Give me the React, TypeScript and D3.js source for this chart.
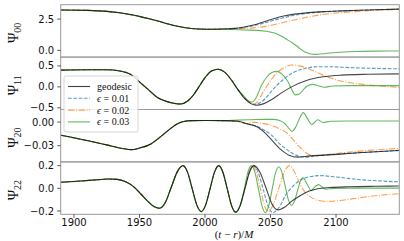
import React from 'react';
import * as d3 from 'd3';

type Pt = [number, number];

// Psi_00
const geo00: Pt[] = [[1890,3.23],[1910,3.2],[1925,3.12],[1935,3.0],[1946,2.8],[1955,2.58],[1964,2.35],[1972,2.1],[1980,1.9],[1988,1.77],[1995,1.71],[2005,1.69],[2015,1.71],[2022,1.76],[2028,1.83],[2037,2.02],[2045,2.28],[2053,2.55],[2061,2.77],[2070,2.92],[2079,3.02],[2090,3.1],[2104,3.16],[2125,3.23],[2148,3.3]];
const e1_00: Pt[] = [[2022,1.74],[2028,1.8],[2037,1.97],[2045,2.18],[2053,2.42],[2061,2.64],[2070,2.84],[2079,2.97],[2090,3.07],[2104,3.15],[2125,3.23],[2148,3.3]];
const e2_00: Pt[] = [[2022,1.72],[2028,1.74],[2037,1.8],[2045,1.9],[2053,2.06],[2061,2.27],[2070,2.47],[2079,2.67],[2090,2.87],[2104,3.02],[2117,3.12],[2130,3.2],[2148,3.27]];
const e3_00: Pt[] = [[2022,1.67],[2030,1.63],[2040,1.6],[2047,1.53],[2053,1.38],[2058,1.15],[2062,0.9],[2066,0.65],[2070,0.35],[2073,0.1],[2076,-0.12],[2080,-0.27],[2084,-0.32],[2092,-0.25],[2100,-0.17],[2115,-0.09],[2130,-0.06],[2148,-0.05]];

// Psi_11
const geo11: Pt[] = [[1890,0.4],[1910,0.41],[1925,0.41],[1935,0.38],[1943,0.3],[1951,0.09],[1958,-0.1],[1964,-0.26],[1970,-0.34],[1976,-0.39],[1981,-0.41],[1987,-0.33],[1991,-0.2],[1994.7,-0.03],[2000,0.22],[2005,0.38],[2010,0.42],[2015,0.35],[2020,0.17],[2025,-0.06],[2030,-0.27],[2035,-0.4],[2039,-0.44],[2045,-0.4],[2051,-0.3],[2058,-0.15],[2066,0.0],[2078,0.16],[2090,0.24],[2104,0.28],[2125,0.3],[2148,0.31]];
const e1_11: Pt[] = [[2030,-0.26],[2035,-0.39],[2038,-0.42],[2042,-0.38],[2046,-0.28],[2050,-0.13],[2055,0.04],[2060,0.18],[2066,0.32],[2072,0.4],[2078,0.45],[2085,0.48],[2095,0.48],[2110,0.46],[2130,0.44],[2148,0.43]];
const e2_11: Pt[] = [[2030,-0.25],[2034,-0.37],[2037,-0.41],[2040,-0.36],[2044,-0.14],[2046,-0.04],[2050,0.15],[2055,0.34],[2060,0.45],[2066,0.52],[2072,0.5],[2080,0.42],[2090,0.28],[2100,0.17],[2115,0.08],[2130,0.03],[2148,-0.01]];
const e3_11: Pt[] = [[2030,-0.23],[2033,-0.33],[2036,-0.36],[2039,-0.26],[2043,0.03],[2047,0.23],[2051,0.34],[2055,0.37],[2059,0.3],[2063,0.14],[2066,-0.05],[2069,-0.19],[2072,-0.17],[2075,-0.07],[2078,0.02],[2082,0.06],[2087,0.02],[2091,-0.01],[2097,0.02],[2110,0.03],[2148,0.03]];

// Psi_20
const geo20: Pt[] = [[1890,-0.0168],[1910,-0.0235],[1925,-0.029],[1937,-0.0335],[1944,-0.035],[1950,-0.033],[1959,-0.0275],[1965,-0.02],[1972,-0.0105],[1978,-0.003],[1983,0.0005],[1990,0.0018],[2000,0.002],[2015,0.0018],[2025,0.001],[2032,-0.002],[2040,-0.0063],[2046,-0.014],[2051,-0.023],[2058,-0.035],[2064,-0.042],[2071,-0.0445],[2080,-0.043],[2091,-0.042],[2117,-0.039],[2148,-0.036]];
const e1_20: Pt[] = [[2032,-0.0025],[2040,-0.0055],[2046,-0.011],[2051,-0.017],[2056,-0.026],[2061,-0.033],[2066,-0.039],[2071,-0.043],[2077,-0.0445],[2085,-0.043],[2091,-0.042],[2117,-0.039],[2148,-0.036]];
const e2_20: Pt[] = [[2035,0.0],[2045,-0.002],[2052,-0.005],[2058,-0.0095],[2063,-0.0145],[2067,-0.022],[2071,-0.0295],[2075,-0.036],[2079,-0.041],[2084,-0.043],[2092,-0.0415],[2105,-0.039],[2125,-0.036],[2148,-0.0335]];
const e3_20: Pt[] = [[2025,0.0025],[2035,0.003],[2045,0.0035],[2052,0.0035],[2057,0.002],[2061,-0.002],[2064,-0.008],[2066.3,-0.0118],[2069,-0.007],[2072,0.004],[2075,0.012],[2078,0.005],[2081.5,-0.003],[2086,0.003],[2090,-0.0005],[2096,0.001],[2110,0.0013],[2148,0.0013]];

// Psi_22
const geo22: Pt[] = [[1890,0.053],[1905,0.064],[1918,0.076],[1926,0.082],[1933,0.079],[1939,0.06],[1945,0.02],[1951,-0.05],[1956,-0.11],[1961,-0.16],[1965.4,-0.175],[1969.9,-0.12],[1974.3,0.012],[1978.8,0.145],[1983.2,0.2],[1986.7,0.141],[1990.2,-0.002],[1993.7,-0.146],[1997.2,-0.205],[2000.5,-0.146],[2003.9,-0.002],[2007.2,0.141],[2010.5,0.2],[2013.7,0.14],[2017,-0.005],[2020.2,-0.15],[2023.4,-0.21],[2026.9,-0.15],[2030.4,-0.005],[2033.9,0.14],[2037.4,0.2],[2042,0.14],[2046.5,0.005],[2051,-0.135],[2055.7,-0.19],[2061,-0.165],[2066,-0.115],[2072,-0.07],[2079,-0.026],[2086,-0.003],[2095,0.007],[2110,0.014],[2130,0.018],[2148,0.02]];
const e1_22: Pt[] = [[2033.7,0.14],[2036.8,0.2],[2040.6,0.14],[2044.4,-0.007],[2048.1,-0.155],[2051.9,-0.215],[2055,-0.19],[2058,-0.14],[2061,-0.07],[2066,0.005],[2071,0.06],[2076,0.09],[2081,0.105],[2088,0.112],[2100,0.1],[2117,0.078],[2135,0.064],[2148,0.057]];
const e2_22: Pt[] = [[2033.4,0.14],[2036.3,0.2],[2039.2,0.14],[2042.2,0.0],[2045.1,-0.14],[2048,-0.205],[2052.2,-0.14],[2056.3,0.0],[2060.4,0.14],[2064.6,0.2],[2068.5,0.14],[2072,0.05],[2076,-0.03],[2081,-0.08],[2087,-0.107],[2094,-0.116],[2105,-0.105],[2117,-0.085],[2132,-0.063],[2148,-0.047]];
const e3_22: Pt[] = [[2030,-0.005],[2032.7,0.14],[2035.4,0.2],[2038.1,0.14],[2040.8,-0.007],[2043.4,-0.15],[2046.1,-0.215],[2048.6,-0.155],[2051.2,-0.012],[2053.7,0.13],[2056.3,0.19],[2058.7,0.14],[2061.2,0.02],[2063.6,-0.1],[2066,-0.15],[2068.2,-0.115],[2070.4,-0.03],[2072.6,0.057],[2074.8,0.092],[2077.8,0.04],[2081,-0.02],[2084,0.015],[2086.8,0.033],[2089.5,0.01],[2092.5,-0.008],[2098,0.0],[2110,0.002],[2148,0.002]];

const xTicks = [1900, 1950, 2000, 2050, 2100];
const legendLabels = ['geodesic', '0.01', '0.02', '0.03'];

// the eps runs follow the geodesic until they split off
const join = (geo: Pt[], tail: Pt[]): Pt[] => [...geo.filter(d => d[0] < tail[0][0] - 1), ...tail];

const panels = [
  { sub: '00', domain: [-0.54, 3.65], ticks: [0, 2.5], fmt: '.1f', geo: geo00, eps: [e1_00, e2_00, e3_00] },
  { sub: '11', domain: [-0.54, 0.71], ticks: [-0.5, 0, 0.5], fmt: '.1f', geo: geo11, eps: [e1_11, e2_11, e3_11] },
  { sub: '20', domain: [-0.0506, 0.016], ticks: [-0.03, 0], fmt: '.2f', geo: geo20, eps: [e1_20, e2_20, e3_20] },
  { sub: '22', domain: [-0.229, 0.233], ticks: [-0.2, 0, 0.2], fmt: '.1f', geo: geo22, eps: [e1_22, e2_22, e3_22] },
];

const styles = [
  { color: '#1f77b4', dash: '3.7,1.6' },
  { color: '#ff7f0e', dash: '6.4,1.6,1,1.6' },
  { color: '#2ca02c', dash: undefined },
];

const W = 404, H = 241;
const left = 60.7, right = 399.3, top = 4.7, panelH = 52.4;
const axisColor = '#999';
const tickFont = '"DejaVu Sans", sans-serif';
const serif = '"Liberation Serif", "DejaVu Serif", serif';

const x = d3.scaleLinear().domain([1889.85, 2148.3]).range([left, right]);

export default function App() {
  const bottom = top + panelH * 4;
  return (
    <svg width={W} height={H} style={{ position: 'absolute', left: 0, top: 0, background: '#fff' }}>
      <defs>
        {panels.map((p, i) => (
          <clipPath id={`clip${i}`} key={i}>
            <rect x={left} y={top + i * panelH} width={right - left} height={panelH} />
          </clipPath>
        ))}
      </defs>
      {panels.map((p, i) => {
        const y0 = top + i * panelH;
        const y = d3.scaleLinear().domain(p.domain).range([y0 + panelH, y0]);
        const line = d3.line<Pt>().x(d => x(d[0])).y(d => y(d[1])).curve(d3.curveMonotoneX);
        const fmt = d3.format(p.fmt);
        return (
          <g key={i}>
            <g clipPath={`url(#clip${i})`} fill="none">
              {p.eps.map((tail, k) => (
                <path key={k} d={line(join(p.geo, tail)) || ''} stroke={styles[k].color}
                  strokeOpacity={0.75} strokeWidth={1.1} strokeDasharray={styles[k].dash} />
              ))}
              <path d={line(p.geo) || ''} stroke="#000" strokeOpacity={0.72} strokeWidth={1.1} />
            </g>
            <rect x={left} y={y0} width={right - left} height={panelH} fill="none" stroke={axisColor} strokeWidth={1} />
            {p.ticks.map(t => (
              <g key={t}>
                <line x1={left - 3.5} x2={left} y1={y(t)} y2={y(t)} stroke="#333" strokeWidth={0.8} />
                <text x={left - 6.5} y={y(t)} dy="0.35em" textAnchor="end" fontSize={10}
                  fontFamily={tickFont} fill="#111">{fmt(t).replace('-', '\u2212')}</text>
              </g>
            ))}
            <text transform={`translate(18,${y0 + panelH / 2 + 2}) rotate(-90)`} textAnchor="middle"
              fontFamily={serif} fontSize={14} fill="#111">
              Ψ<tspan fontSize={10} dy={2.5}>{p.sub}</tspan>
            </text>
          </g>
        );
      })}
      {xTicks.map(t => (
        <g key={t}>
          <line x1={x(t)} x2={x(t)} y1={bottom} y2={bottom + 3.5} stroke="#333" strokeWidth={0.8} />
          <text x={x(t)} y={226} textAnchor="middle" fontSize={10} fontFamily={tickFont} fill="#111">{t}</text>
        </g>
      ))}
      <text x={234} y={238.3} textAnchor="middle" fontFamily={serif} fontSize={11} fill="#111">
        (<tspan fontStyle="italic">t</tspan> − <tspan fontStyle="italic">r</tspan>)/<tspan fontStyle="italic">M</tspan>
      </text>
      <g>
        <rect x={64} y={76} width={74} height={56} rx={2} fill="#fff" fillOpacity={0.85} stroke="#ccc" strokeWidth={0.8} />
        {legendLabels.map((lab, k) => {
          const ly = 86.5 + k * 11.8;
          const st = k === 0 ? { color: '#000', dash: undefined } : styles[k - 1];
          return (
            <g key={k}>
              <line x1={68} x2={90} y1={ly} y2={ly} stroke={st.color} strokeOpacity={0.75}
                strokeWidth={1.1} strokeDasharray={st.dash} />
              <text x={97} y={ly} dy="0.35em" fontFamily={serif} fontSize={10} fill="#111">
                {k === 0 ? lab : <><tspan fontStyle="italic">ϵ</tspan> = {lab}</>}
              </text>
            </g>
          );
        })}
      </g>
    </svg>
  );
}
